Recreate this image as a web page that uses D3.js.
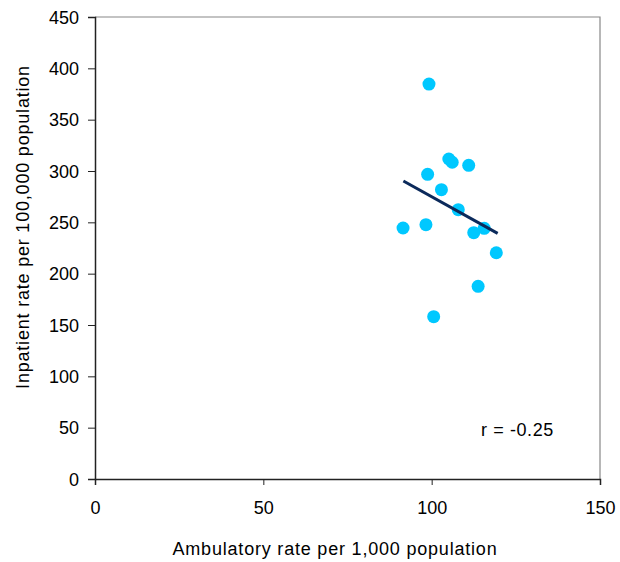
<!DOCTYPE html>
<html><head><meta charset="utf-8">
<script src="https://cdn.jsdelivr.net/npm/d3@7"></script>
<style>body{margin:0;background:#fff;} text{font-family:"Liberation Sans",Arial,sans-serif;}</style>
</head><body>
<svg id="c" width="620" height="562"></svg>
<script>
const ambulatory = [99.2, 105.1, 106.1, 111.0, 98.8, 102.9, 107.9, 91.5, 98.3, 112.5, 115.6, 119.2, 113.8, 100.6];
const inpatient  = [384.7, 311.7, 308.5, 305.5, 296.8, 281.8, 262.3, 244.5, 247.7, 239.9, 244.2, 220.4, 187.7, 158.1];
const trendX = [91.6, 119.6];
const trendY = [290.3, 239.3];
const xTicks = [0, 50, 100, 150];
const yTicks = [0, 50, 100, 150, 200, 250, 300, 350, 400, 450];
const rLabel = "r = -0.25";

const svg = d3.select("#c");
const L = 95, R = 600, T = 17, B = 479;
const x = d3.scaleLinear().domain([0,150]).range([L,R]);
const y = d3.scaleLinear().domain([0,450]).range([B,T]);

// plot frame (top/right gray)
svg.append("path").attr("d",`M${L},${T}H${R}V${B}`).attr("fill","none").attr("stroke","#888").attr("stroke-width",1.2);

const xa = svg.append("g").attr("transform",`translate(0,${B})`)
  .call(d3.axisBottom(x).tickValues(xTicks).tickSize(6).tickPadding(16).tickFormat(d3.format("d")));
const ya = svg.append("g").attr("transform",`translate(${L},0)`)
  .call(d3.axisLeft(y).tickValues(yTicks).tickSize(7).tickPadding(9).tickFormat(d3.format("d")));
[xa,ya].forEach(g=>{
  g.select(".domain").attr("stroke","#222").attr("stroke-width",1.5);
  g.selectAll(".tick line").attr("stroke","#222").attr("stroke-width",1);
  g.selectAll("text").attr("font-size",18).attr("fill","#000").style("font-family","'Liberation Sans',Arial,sans-serif");
});
ya.selectAll("text").attr("dy","0.35em");

svg.append("text").attr("x",335).attr("y",555).attr("text-anchor","middle")
  .attr("font-size",18).attr("letter-spacing","0.8px").text("Ambulatory rate per 1,000 population");
svg.append("text").attr("transform",`translate(29,227) rotate(-90)`).attr("text-anchor","middle")
  .attr("font-size",18).attr("letter-spacing","0.8px").text("Inpatient rate per 100,000 population");

svg.append("g").selectAll("circle").data(ambulatory.map((a,i)=>[a,inpatient[i]])).join("circle")
  .attr("cx",d=>x(d[0])).attr("cy",d=>y(d[1])).attr("r",6.5).attr("fill","#00C8FF");

svg.append("line").attr("x1",x(trendX[0])).attr("y1",y(trendY[0])).attr("x2",x(trendX[1])).attr("y2",y(trendY[1]))
  .attr("stroke","#0B2A5B").attr("stroke-width",3);

svg.append("text").attr("x",481).attr("y",436).attr("font-size",18).attr("letter-spacing","0.6px").text(rLabel);
</script>
</body></html>
